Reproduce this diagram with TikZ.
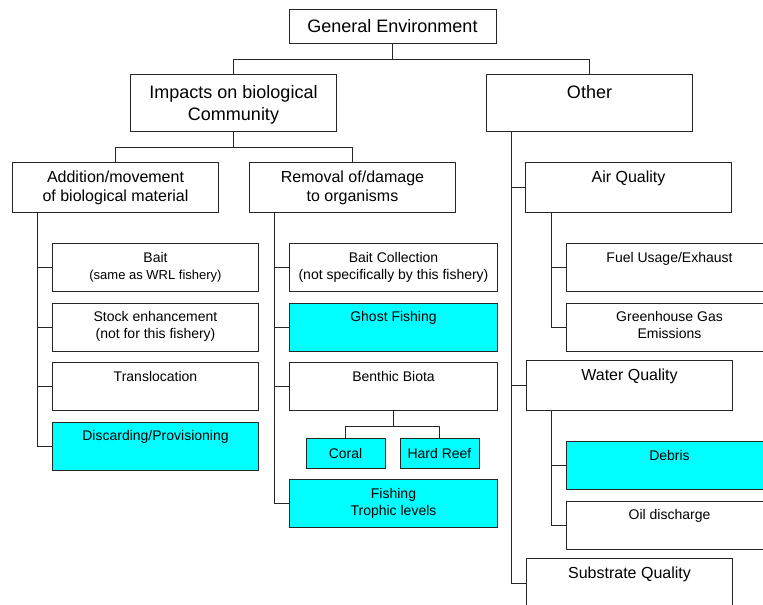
\documentclass[tikz,border=0pt]{standalone}
\usepackage{fontspec}
\setmainfont{Liberation Sans}
\usetikzlibrary{positioning}
\definecolor{aqua}{RGB}{0,255,255}

\tikzset{
  box/.style={draw=black!85, line width=1pt, inner sep=0pt, minimum width=206pt, minimum height=48pt},
  hit/.style={box, fill=aqua},
  txt/.style={anchor=north, align=center, inner sep=0pt, text=black},
  tag/.style={label={[txt, yshift=-9pt, font=\fontsize{14}{17}\selectfont]north:{#1}}},
  tagm/.style={label={[txt, yshift=-9pt, font=\fontsize{16}{19}\selectfont]north:{#1}}},
  tagl/.style={label={[txt, yshift=-11pt, font=\fontsize{18}{22}\selectfont]north:{#1}}},
  link/.style={draw=black!85, line width=1pt},
}

\begin{document}
\begin{tikzpicture}[x=1pt, y=-1pt]
  \useasboundingbox (0,0) rectangle (763,605);
  \clip (0,0) rectangle (763,605);
  \fill[white] (0,0) rectangle (763,605);

  % top levels
  \node[box, minimum width=207pt, minimum height=34pt, font=\fontsize{18}{22}\selectfont] (genv) at (392.5,26) {General Environment};
  \node[box, anchor=north west, minimum height=57pt, tagl={Impacts on biological\\Community}] (impact) at (130,74) {};
  \node[box, anchor=north west, minimum height=57pt, tagl={Other}] (other) at (486,74) {};

  \node[box, anchor=north west, minimum height=50pt, tagm={Addition/movement\\of biological material}] (addit) at (12,162) {};
  \node[box, anchor=north west, minimum height=50pt, tagm={Removal of/damage\\to organisms}] (remov) at (249,162) {};
  \node[box, anchor=north west, minimum height=50pt, tagm={Air Quality}] (air) at (525,162) {};

  % addition column
  \node[box, anchor=north west, tag={Bait\\{\fontsize{13}{16}\selectfont (same as WRL fishery)}}] (bait) at (52,243) {};
  \node[box, below=10.5pt of bait, tag={Stock enhancement\\(not for this fishery)}] (stock) {};
  \node[box, below=10.5pt of stock, tag={Translocation}] (transl) {};
  \node[hit, below=10.5pt of transl, tag={Discarding/Provisioning}] (discard) {};

  % removal column
  \node[box, anchor=north west, minimum width=208pt, tag={Bait Collection\\(not specifically by this fishery)}] (baitcol) at (289,243) {};
  \node[hit, minimum width=208pt, below=10.5pt of baitcol, tag={Ghost Fishing}] (ghost) {};
  \node[box, minimum width=208pt, below=10.5pt of ghost, tag={Benthic Biota}] (benthic) {};
  \node[hit, minimum width=79pt, minimum height=30pt, font=\fontsize{14}{17}\selectfont] (coral) at (345.5,453) {Coral};
  \node[hit, minimum width=79pt, minimum height=30pt, font=\fontsize{14}{17}\selectfont] (hreef) at (439.5,453) {Hard Reef};
  \node[hit, minimum width=208pt, anchor=north west, tag={Fishing\\Trophic levels}] (trophic) at (289,479) {};

  % other column
  \node[box, anchor=north west, tag={Fuel Usage/Exhaust}] (fuel) at (566,243) {};
  \node[box, below=10.5pt of fuel, tag={Greenhouse Gas\\Emissions}] (ghg) {};
  \node[box, anchor=north west, minimum height=50pt, tagm={Water Quality}] (water) at (526,360) {};
  \node[hit, anchor=north west, tag={Debris}] (debris) at (566,441) {};
  \node[box, below=10.5pt of debris, tag={Oil discharge}] (oil) {};
  \node[box, anchor=north west, minimum height=50pt, tagm={Substrate Quality}] (subst) at (526,558) {};

  % connectors
  \draw[link] (genv.south) -- ++(0,16) coordinate (jg) -| (impact.north);
  \draw[link] (jg) -| (other.north);
  \draw[link] (impact.south) -- ++(0,15) coordinate (ji) -| (addit.north);
  \draw[link] (ji) -| (remov.north);
  \draw[link] (benthic.south) -- ++(0,15) coordinate (jb) -| (coral.north);
  \draw[link] (jb) -| (hreef.north);

  \foreach \n in {bait,stock,transl,discard}
    \draw[link] ([xshift=25pt]addit.south west) |- (\n.west);
  \foreach \n in {baitcol,ghost,benthic,trophic}
    \draw[link] ([xshift=25pt]remov.south west) |- (\n.west);
  \foreach \n in {air,water,subst}
    \draw[link] ([xshift=25pt]other.south west) |- (\n.west);
  \foreach \n in {fuel,ghg}
    \draw[link] ([xshift=26pt]air.south west) |- (\n.west);
  \foreach \n in {debris,oil}
    \draw[link] ([xshift=25pt]water.south west) |- (\n.west);
\end{tikzpicture}
\end{document}
